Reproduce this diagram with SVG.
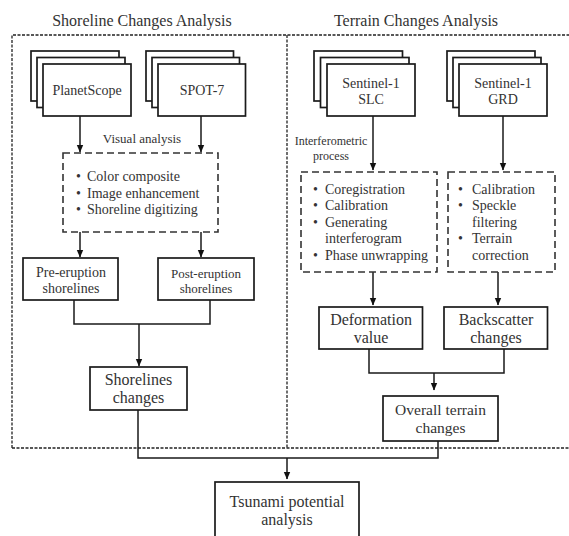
<svg xmlns="http://www.w3.org/2000/svg" width="569" height="536" viewBox="0 0 569 536">
<defs>
<marker id="arr" markerWidth="8" markerHeight="8" refX="7" refY="4" orient="auto" markerUnits="userSpaceOnUse">
<path d="M0,0.8 L7.5,4 L0,7.2 Z" fill="#111"/>
</marker>
</defs>
<style>
text{font-family:"Liberation Serif","Times New Roman",serif;fill:#333;}
.t16{font-size:16px;text-anchor:middle}
.t14{font-size:14px;text-anchor:middle}
.t13{font-size:13px;text-anchor:middle}
.b{font-size:14px}
.box{fill:#fff;stroke:#1a1a1a;stroke-width:1.7}
.dbox{fill:none;stroke:#333;stroke-width:1.6;stroke-dasharray:7,4}
.frame{fill:none;stroke:#222;stroke-width:1.3;stroke-dasharray:3,1.5}
.ln{fill:none;stroke:#1a1a1a;stroke-width:1.5}
.ar{fill:none;stroke:#1a1a1a;stroke-width:1.5;marker-end:url(#arr)}
</style>
<rect width="569" height="536" fill="#fff"/>

<g id="frames">
<path class="frame" d="M12,448 V35 H569"/>
<path class="frame" d="M12,448 H569"/>
<path class="frame" d="M287,35 V448"/>
<text x="142" y="26" class="t16">Shoreline Changes Analysis</text>
<text x="416" y="26" class="t16">Terrain Changes Analysis</text>
</g>

<g id="connectors">
<path class="ar" d="M80,116 V152"/>
<path class="ar" d="M201,116 V152"/>
<path class="ar" d="M80,232 V257"/>
<path class="ar" d="M201,232 V257"/>
<path class="ln" d="M74,300 V324 H210 V300"/>
<path class="ar" d="M139,324 V366"/>
<path class="ar" d="M373,116 V170"/>
<path class="ar" d="M503,116 V170"/>
<path class="ar" d="M373,272 V305"/>
<path class="ar" d="M498,272 V305"/>
<path class="ln" d="M369,349 V373 H504 V349"/>
<path class="ar" d="M434,373 V390"/>
<path class="ln" d="M138,410 V458 H438 V441"/>
<path class="ar" d="M287,458 V479"/>
<text x="142" y="143" class="t13">Visual analysis</text>
<text x="331" y="145" style="font-size:12px;text-anchor:middle">Interferometric</text>
<text x="331" y="160" style="font-size:12px;text-anchor:middle">process</text>
</g>

<g id="planetscope">
<rect class="box" x="31" y="51" width="88" height="50"/>
<rect class="box" x="37" y="57.5" width="88" height="50"/>
<rect class="box" x="43" y="64" width="88" height="52"/>
<text x="87" y="95" class="t14">PlanetScope</text>
</g>

<g id="spot7">
<rect class="box" x="146" y="51" width="87.5" height="50"/>
<rect class="box" x="152" y="57.5" width="87.5" height="50"/>
<rect class="box" x="158" y="64" width="87.5" height="52"/>
<text x="202" y="95" class="t14">SPOT-7</text>
</g>

<g id="visual-steps">
<rect class="dbox" x="63" y="153" width="155" height="79"/>
<text x="76" y="181" class="b">•</text><text x="87" y="181" class="b">Color composite</text>
<text x="76" y="197.5" class="b">•</text><text x="87" y="197.5" class="b">Image enhancement</text>
<text x="76" y="214" class="b">•</text><text x="87" y="214" class="b">Shoreline digitizing</text>
</g>

<g id="pre-eruption">
<rect class="box" x="23" y="258" width="95" height="42"/>
<text x="71" y="277" class="t14">Pre-eruption</text>
<text x="71" y="293" class="t14">shorelines</text>
</g>

<g id="post-eruption">
<rect class="box" x="158" y="258" width="96" height="42"/>
<text x="206" y="278" class="t13">Post-eruption</text>
<text x="206" y="293" class="t13">shorelines</text>
</g>

<g id="shorelines-changes">
<rect class="box" x="90" y="367" width="97" height="43"/>
<text x="138.5" y="384.5" class="t16">Shorelines</text>
<text x="138.5" y="403" class="t16">changes</text>
</g>

<g id="sentinel-slc">
<rect class="box" x="314" y="51" width="88.5" height="50"/>
<rect class="box" x="320.5" y="57.5" width="88.5" height="50"/>
<rect class="box" x="327" y="64" width="88" height="52"/>
<text x="371" y="88" class="t14">Sentinel-1</text>
<text x="371" y="104" class="t14">SLC</text>
</g>

<g id="sentinel-grd">
<rect class="box" x="447" y="51" width="88" height="50"/>
<rect class="box" x="453" y="57.5" width="88" height="50"/>
<rect class="box" x="459" y="64" width="88" height="52"/>
<text x="503" y="88" class="t14">Sentinel-1</text>
<text x="503" y="104" class="t14">GRD</text>
</g>

<g id="insar-steps">
<rect class="dbox" x="301" y="172" width="136" height="100"/>
<text x="313" y="193.5" class="b">•</text><text x="325" y="193.5" class="b">Coregistration</text>
<text x="313" y="210" class="b">•</text><text x="325" y="210" class="b">Calibration</text>
<text x="313" y="226.5" class="b">•</text><text x="325" y="226.5" class="b">Generating</text>
<text x="325" y="243" class="b">interferogram</text>
<text x="313" y="259.5" class="b">•</text><text x="325" y="259.5" class="b">Phase unwrapping</text>
</g>

<g id="grd-steps">
<rect class="dbox" x="448" y="172" width="107" height="100"/>
<text x="458" y="193.5" class="b">•</text><text x="472" y="193.5" class="b">Calibration</text>
<text x="458" y="210" class="b">•</text><text x="472" y="210" class="b">Speckle</text>
<text x="472" y="226.5" class="b">filtering</text>
<text x="458" y="243" class="b">•</text><text x="472" y="243" class="b">Terrain</text>
<text x="472" y="259.5" class="b">correction</text>
</g>

<g id="deformation">
<rect class="box" x="319" y="307" width="103.5" height="42"/>
<text x="371" y="325" class="t16">Deformation</text>
<text x="371" y="343" class="t16">value</text>
</g>

<g id="backscatter">
<rect class="box" x="444" y="307" width="103.5" height="42"/>
<text x="496" y="325" class="t16">Backscatter</text>
<text x="496" y="343" class="t16">changes</text>
</g>

<g id="overall-terrain">
<rect class="box" x="383" y="396" width="115" height="45"/>
<text x="440.5" y="414.5" style="font-size:15.5px;text-anchor:middle">Overall terrain</text>
<text x="440.5" y="433" style="font-size:15.5px;text-anchor:middle">changes</text>
</g>

<g id="tsunami">
<rect class="box" x="215" y="482" width="144" height="60"/>
<text x="287" y="507" class="t16">Tsunami potential</text>
<text x="287" y="525" class="t16">analysis</text>
</g>
</svg>
